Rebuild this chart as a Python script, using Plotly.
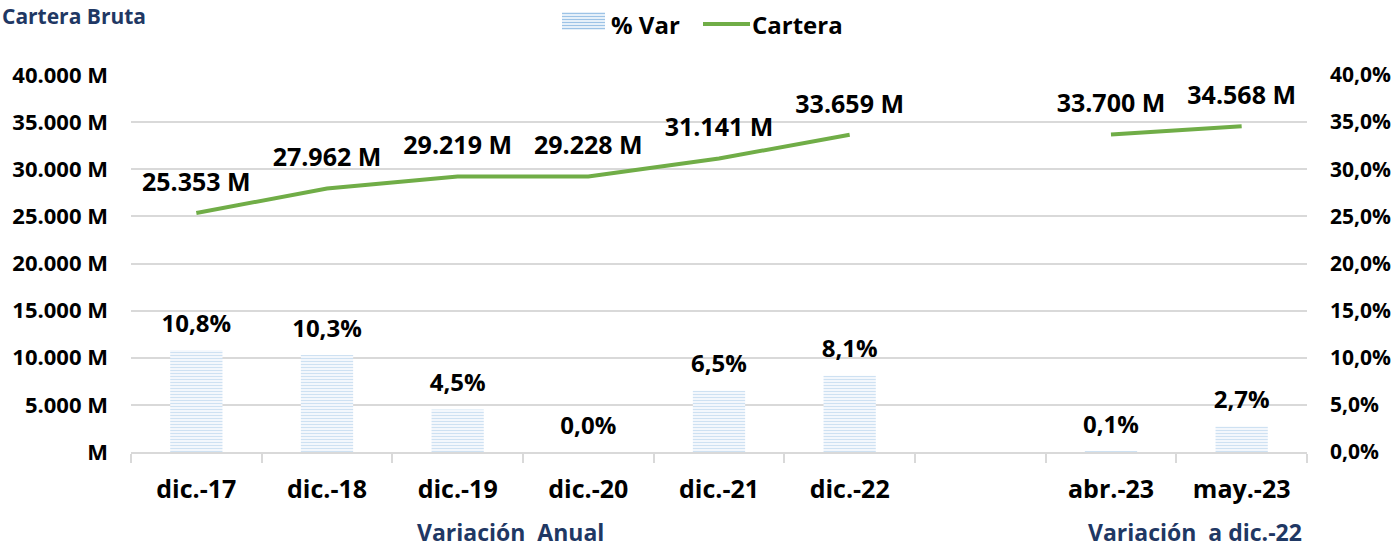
import plotly.graph_objects as go

categories = ["dic.-17", "dic.-18", "dic.-19", "dic.-20", "dic.-21", "dic.-22", " ", "abr.-23", "may.-23"]
cartera = [25353, 27962, 29219, 29228, 31141, 33659, None, 33700, 34568]
cartera_labels = ["25.353 M", "27.962 M", "29.219 M", "29.228 M", "31.141 M", "33.659 M", "", "33.700 M", "34.568 M"]
var_pct = [10.8, 10.3, 4.5, 0.0, 6.5, 8.1, None, 0.1, 2.7]
var_labels = ["10,8%", "10,3%", "4,5%", "0,0%", "6,5%", "8,1%", "", "0,1%", "2,7%"]

left_ticks = [0, 5000, 10000, 15000, 20000, 25000, 30000, 35000, 40000]
left_text = ["M", "5.000 M", "10.000 M", "15.000 M", "20.000 M", "25.000 M", "30.000 M", "35.000 M", "40.000 M"]
right_ticks = [0, 5, 10, 15, 20, 25, 30, 35, 40]
right_text = ["0,0%", "5,0%", "10,0%", "15,0%", "20,0%", "25,0%", "30,0%", "35,0%", "40,0%"]

FONT = "Open Sans"
NAVY = "#1F3864"
GREEN = "#70AD47"
STRIPE = "#9DC3E6"
GRID = "#D9D9D9"

W, H = 1396, 550
ML, MR, MT, MB = 131, 89, 75, 98
PW, PH = W - ML - MR, H - MT - MB


def px(x):
    return (x - ML) / PW


def py(y):
    return (H - MB - y) / PH


fig = go.Figure()
fig.add_trace(go.Bar(
    x=categories, y=var_pct, name="% Var", yaxis="y", showlegend=False,
    marker=dict(color="white", line=dict(width=0),
                pattern=dict(shape="-", fgcolor=STRIPE, bgcolor="white", size=3, solidity=0.5)),
))
fig.add_trace(go.Scatter(
    x=categories, y=var_pct, yaxis="y", mode="markers+text", showlegend=False,
    marker=dict(size=18, color="rgba(0,0,0,0)"),
    text=var_labels, textposition="top center", cliponaxis=False,
    textfont=dict(family=FONT, size=24, color="black", weight="bold"),
))
fig.add_trace(go.Scatter(
    x=categories, y=cartera, name="Cartera", yaxis="y2", mode="lines+markers+text", showlegend=False,
    line=dict(color=GREEN, width=4), connectgaps=False,
    marker=dict(size=24, color="rgba(0,0,0,0)"),
    text=cartera_labels, textposition="top center", cliponaxis=False,
    textfont=dict(family=FONT, size=25, color="black", weight="bold"),
))

shapes = []
# manual legend: striped swatch
y = 13.5
while y <= 31:
    shapes.append(dict(type="line", xref="paper", yref="paper",
                       x0=px(562), x1=px(605), y0=py(y), y1=py(y),
                       line=dict(color=STRIPE, width=1.5)))
    y += 3
shapes.append(dict(type="line", xref="paper", yref="paper",
                   x0=px(703), x1=px(750), y0=py(24), y1=py(24),
                   line=dict(color=GREEN, width=4)))

fig.update_layout(
    width=W, height=H,
    margin=dict(l=ML, r=MR, t=MT, b=MB, autoexpand=False),
    plot_bgcolor="white", paper_bgcolor="white",
    font=dict(family=FONT, color="black"),
    bargap=0.6,
    showlegend=False,
    xaxis=dict(type="category", categoryorder="array", categoryarray=categories, automargin=False,
               range=[-0.5, len(categories) - 0.5],
               showgrid=False, showline=True, linecolor=GRID, linewidth=2,
               ticks="outside", tickson="boundaries", ticklen=9, tickcolor=GRID, tickwidth=2,
               ticklabelstandoff=14,
               tickfont=dict(family=FONT, size=25, color="black", weight="bold")),
    yaxis=dict(side="right", range=[0, 40], tickvals=right_ticks, ticktext=right_text, automargin=False,
               showgrid=True, gridcolor=GRID, gridwidth=2, zeroline=False,
               ticklabelstandoff=22,
               tickfont=dict(family=FONT, size=21, color="black", weight="bold")),
    yaxis2=dict(side="left", overlaying="y", range=[0, 40000], tickvals=left_ticks, ticktext=left_text,
                automargin=False, showgrid=False, zeroline=False, ticklabelstandoff=22,
                tickfont=dict(family=FONT, size=22, color="black", weight="bold")),
    shapes=shapes,
    annotations=[
        dict(text="Cartera Bruta", xref="paper", yref="paper", x=px(0), y=py(0),
             xanchor="left", yanchor="top", showarrow=False,
             font=dict(family=FONT, size=21, color=NAVY, weight="bold")),
        dict(text="% Var", xref="paper", yref="paper", x=px(609), y=py(24),
             xanchor="left", yanchor="middle", showarrow=False,
             font=dict(family=FONT, size=24, color="black", weight="bold")),
        dict(text="Cartera", xref="paper", yref="paper", x=px(750), y=py(24),
             xanchor="left", yanchor="middle", showarrow=False,
             font=dict(family=FONT, size=24, color="black", weight="bold")),
        dict(text="Variación\u00a0 Anual", xref="paper", yref="paper", x=px(510), y=py(550),
             xanchor="center", yanchor="bottom", showarrow=False,
             font=dict(family=FONT, size=23, color=NAVY, weight="bold")),
        dict(text="Variación\u00a0 a dic.-22", xref="paper", yref="paper", x=px(1195), y=py(550),
             xanchor="center", yanchor="bottom", showarrow=False,
             font=dict(family=FONT, size=23, color=NAVY, weight="bold")),
    ],
)

fig.write_html("out.html", config={"displayModeBar": False},
               post_script="document.body.style.margin='0';")
